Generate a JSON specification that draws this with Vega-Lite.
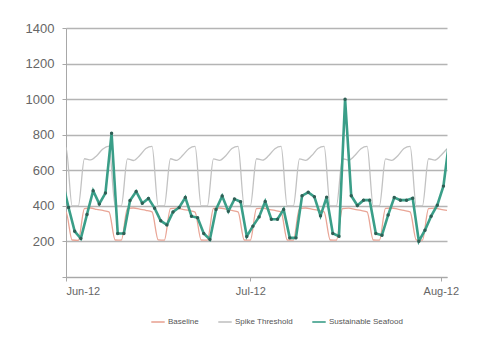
{
  "$schema": "https://vega.github.io/schema/vega-lite/v6.json",
  "autosize": {"type": "none"},
  "padding": {"left": 66, "top": 28, "right": 33, "bottom": 83},
  "width": 381,
  "height": 249,
  "background": "white",
  "config": {
    "view": {"stroke": null},
    "font": "Liberation Sans",
    "axisY": {
      "title": null,
      "format": "d",
      "labelOverlap": false,
      "labelBound": false,
      "grid": true,
      "gridColor": "#b4b4b4",
      "gridWidth": 1.3,
      "domainColor": "#a8a8a8",
      "tickColor": "#a8a8a8",
      "tickSize": 4,
      "labelFontSize": 13,
      "labelColor": "#666666",
      "labelPadding": 8
    }
  },
  "datasets": {
    "ref": [
      {"date": "2012-05-31T00:00:00", "baseline": 372, "threshold": 720},
      {"date": "2012-06-01T00:00:00", "baseline": 365, "threshold": 728},
      {"date": "2012-06-02T00:00:00", "baseline": 208, "threshold": 400},
      {"date": "2012-06-03T00:00:00", "baseline": 206, "threshold": 400},
      {"date": "2012-06-04T00:00:00", "baseline": 385, "threshold": 665},
      {"date": "2012-06-05T00:00:00", "baseline": 388, "threshold": 658},
      {"date": "2012-06-06T00:00:00", "baseline": 380, "threshold": 682},
      {"date": "2012-06-07T00:00:00", "baseline": 374, "threshold": 720},
      {"date": "2012-06-08T00:00:00", "baseline": 366, "threshold": 736},
      {"date": "2012-06-09T00:00:00", "baseline": 208, "threshold": 400},
      {"date": "2012-06-10T00:00:00", "baseline": 207, "threshold": 400},
      {"date": "2012-06-11T00:00:00", "baseline": 386, "threshold": 664},
      {"date": "2012-06-12T00:00:00", "baseline": 388, "threshold": 655},
      {"date": "2012-06-13T00:00:00", "baseline": 381, "threshold": 683},
      {"date": "2012-06-14T00:00:00", "baseline": 375, "threshold": 722},
      {"date": "2012-06-15T00:00:00", "baseline": 366, "threshold": 735},
      {"date": "2012-06-16T00:00:00", "baseline": 209, "threshold": 400},
      {"date": "2012-06-17T00:00:00", "baseline": 207, "threshold": 400},
      {"date": "2012-06-18T00:00:00", "baseline": 385, "threshold": 665},
      {"date": "2012-06-19T00:00:00", "baseline": 387, "threshold": 656},
      {"date": "2012-06-20T00:00:00", "baseline": 380, "threshold": 684},
      {"date": "2012-06-21T00:00:00", "baseline": 374, "threshold": 721},
      {"date": "2012-06-22T00:00:00", "baseline": 365, "threshold": 734},
      {"date": "2012-06-23T00:00:00", "baseline": 208, "threshold": 400},
      {"date": "2012-06-24T00:00:00", "baseline": 207, "threshold": 400},
      {"date": "2012-06-25T00:00:00", "baseline": 386, "threshold": 664},
      {"date": "2012-06-26T00:00:00", "baseline": 388, "threshold": 656},
      {"date": "2012-06-27T00:00:00", "baseline": 381, "threshold": 682},
      {"date": "2012-06-28T00:00:00", "baseline": 374, "threshold": 722},
      {"date": "2012-06-29T00:00:00", "baseline": 366, "threshold": 735},
      {"date": "2012-06-30T00:00:00", "baseline": 208, "threshold": 400},
      {"date": "2012-07-01T00:00:00", "baseline": 207, "threshold": 400},
      {"date": "2012-07-02T00:00:00", "baseline": 385, "threshold": 665},
      {"date": "2012-07-03T00:00:00", "baseline": 387, "threshold": 657},
      {"date": "2012-07-04T00:00:00", "baseline": 380, "threshold": 683},
      {"date": "2012-07-05T00:00:00", "baseline": 374, "threshold": 721},
      {"date": "2012-07-06T00:00:00", "baseline": 366, "threshold": 734},
      {"date": "2012-07-07T00:00:00", "baseline": 208, "threshold": 400},
      {"date": "2012-07-08T00:00:00", "baseline": 207, "threshold": 400},
      {"date": "2012-07-09T00:00:00", "baseline": 386, "threshold": 664},
      {"date": "2012-07-10T00:00:00", "baseline": 388, "threshold": 656},
      {"date": "2012-07-11T00:00:00", "baseline": 381, "threshold": 683},
      {"date": "2012-07-12T00:00:00", "baseline": 375, "threshold": 722},
      {"date": "2012-07-13T00:00:00", "baseline": 366, "threshold": 735},
      {"date": "2012-07-14T00:00:00", "baseline": 208, "threshold": 400},
      {"date": "2012-07-15T00:00:00", "baseline": 207, "threshold": 400},
      {"date": "2012-07-16T00:00:00", "baseline": 385, "threshold": 665},
      {"date": "2012-07-17T00:00:00", "baseline": 387, "threshold": 657},
      {"date": "2012-07-18T00:00:00", "baseline": 380, "threshold": 683},
      {"date": "2012-07-19T00:00:00", "baseline": 374, "threshold": 721},
      {"date": "2012-07-20T00:00:00", "baseline": 366, "threshold": 734},
      {"date": "2012-07-21T00:00:00", "baseline": 208, "threshold": 400},
      {"date": "2012-07-22T00:00:00", "baseline": 207, "threshold": 400},
      {"date": "2012-07-23T00:00:00", "baseline": 386, "threshold": 664},
      {"date": "2012-07-24T00:00:00", "baseline": 388, "threshold": 656},
      {"date": "2012-07-25T00:00:00", "baseline": 381, "threshold": 682},
      {"date": "2012-07-26T00:00:00", "baseline": 374, "threshold": 722},
      {"date": "2012-07-27T00:00:00", "baseline": 366, "threshold": 735},
      {"date": "2012-07-28T00:00:00", "baseline": 208, "threshold": 400},
      {"date": "2012-07-29T00:00:00", "baseline": 207, "threshold": 400},
      {"date": "2012-07-30T00:00:00", "baseline": 385, "threshold": 665},
      {"date": "2012-07-31T00:00:00", "baseline": 387, "threshold": 657},
      {"date": "2012-08-01T00:00:00", "baseline": 380, "threshold": 683},
      {"date": "2012-08-02T00:00:00", "baseline": 374, "threshold": 721}
    ],
    "seafood": [
      {"date": "2012-05-31T10:00:00", "value": 540},
      {"date": "2012-06-01T10:00:00", "value": 391},
      {"date": "2012-06-02T10:00:00", "value": 257},
      {"date": "2012-06-03T10:00:00", "value": 216},
      {"date": "2012-06-04T10:00:00", "value": 352},
      {"date": "2012-06-05T10:00:00", "value": 485},
      {"date": "2012-06-06T10:00:00", "value": 411},
      {"date": "2012-06-07T10:00:00", "value": 472},
      {"date": "2012-06-08T10:00:00", "value": 808},
      {"date": "2012-06-09T10:00:00", "value": 245},
      {"date": "2012-06-10T10:00:00", "value": 245},
      {"date": "2012-06-11T10:00:00", "value": 430},
      {"date": "2012-06-12T10:00:00", "value": 481},
      {"date": "2012-06-13T10:00:00", "value": 415},
      {"date": "2012-06-14T10:00:00", "value": 442},
      {"date": "2012-06-15T10:00:00", "value": 387},
      {"date": "2012-06-16T10:00:00", "value": 316},
      {"date": "2012-06-17T10:00:00", "value": 293},
      {"date": "2012-06-18T10:00:00", "value": 366},
      {"date": "2012-06-19T10:00:00", "value": 391},
      {"date": "2012-06-20T10:00:00", "value": 447},
      {"date": "2012-06-21T10:00:00", "value": 342},
      {"date": "2012-06-22T10:00:00", "value": 333},
      {"date": "2012-06-23T10:00:00", "value": 245},
      {"date": "2012-06-24T10:00:00", "value": 211},
      {"date": "2012-06-25T10:00:00", "value": 380},
      {"date": "2012-06-26T10:00:00", "value": 455},
      {"date": "2012-06-27T10:00:00", "value": 369},
      {"date": "2012-06-28T10:00:00", "value": 438},
      {"date": "2012-06-29T10:00:00", "value": 423},
      {"date": "2012-06-30T10:00:00", "value": 228},
      {"date": "2012-07-01T10:00:00", "value": 286},
      {"date": "2012-07-02T10:00:00", "value": 338},
      {"date": "2012-07-03T10:00:00", "value": 425},
      {"date": "2012-07-04T10:00:00", "value": 325},
      {"date": "2012-07-05T10:00:00", "value": 325},
      {"date": "2012-07-06T10:00:00", "value": 380},
      {"date": "2012-07-07T10:00:00", "value": 220},
      {"date": "2012-07-08T10:00:00", "value": 220},
      {"date": "2012-07-09T10:00:00", "value": 457},
      {"date": "2012-07-10T10:00:00", "value": 476},
      {"date": "2012-07-11T10:00:00", "value": 451},
      {"date": "2012-07-12T10:00:00", "value": 344},
      {"date": "2012-07-13T10:00:00", "value": 449},
      {"date": "2012-07-14T10:00:00", "value": 245},
      {"date": "2012-07-15T10:00:00", "value": 229},
      {"date": "2012-07-16T10:00:00", "value": 1000},
      {"date": "2012-07-17T10:00:00", "value": 457},
      {"date": "2012-07-18T10:00:00", "value": 402},
      {"date": "2012-07-19T10:00:00", "value": 432},
      {"date": "2012-07-20T10:00:00", "value": 432},
      {"date": "2012-07-21T10:00:00", "value": 245},
      {"date": "2012-07-22T10:00:00", "value": 235},
      {"date": "2012-07-23T10:00:00", "value": 348},
      {"date": "2012-07-24T10:00:00", "value": 447},
      {"date": "2012-07-25T10:00:00", "value": 432},
      {"date": "2012-07-26T10:00:00", "value": 432},
      {"date": "2012-07-27T10:00:00", "value": 443},
      {"date": "2012-07-28T10:00:00", "value": 201},
      {"date": "2012-07-29T10:00:00", "value": 263},
      {"date": "2012-07-30T10:00:00", "value": 342},
      {"date": "2012-07-31T10:00:00", "value": 404},
      {"date": "2012-08-01T10:00:00", "value": 511},
      {"date": "2012-08-02T10:00:00", "value": 780}
    ]
  },
  "encoding": {
    "x": {
      "field": "date",
      "type": "temporal",
      "scale": {"domain": [{"year": 2012, "month": 6, "date": 1}, {"year": 2012, "month": 8, "date": 2}]},
      "axis": {
        "title": null,
        "values": [{"year": 2012, "month": 6, "date": 1}, {"year": 2012, "month": 7, "date": 1}, {"year": 2012, "month": 8, "date": 1}],
        "format": "%b-%y",
        "grid": false,
        "domainColor": "#a8a8a8",
        "tickColor": "#a8a8a8",
        "tickSize": 4,
        "labelFontSize": 11,
        "labelColor": "#666666",
        "labelPadding": 4,
        "labelDx": 2,
        "labelOverlap": false
      }
    }
  },
  "layer": [
    {
      "data": {"name": "ref"},
      "mark": {"type": "line", "interpolate": "monotone", "strokeWidth": 1.3, "clip": true},
      "encoding": {
        "y": {
          "field": "threshold",
          "type": "quantitative",
          "scale": {"domain": [0, 1400]},
          "axis": {
            "values": [0, 200, 400, 600, 800, 1000, 1200, 1400],
            "labelExpr": "datum.value == 0 ? '' : datum.label"
          }
        },
        "color": {
          "datum": "Spike Threshold",
          "scale": {
            "domain": ["Baseline", "Spike Threshold", "Sustainable Seafood"],
            "range": ["#e9a596", "#c2c2c2", "#3a9e88"]
          },
          "legend": {
            "title": null,
            "orient": "none",
            "legendX": 84,
            "legendY": 286,
            "direction": "horizontal",
            "symbolType": "stroke",
            "symbolStrokeWidth": 1.6,
            "symbolSize": 180,
            "labelFontSize": 8,
            "labelColor": "#555555",
            "labelOffset": 2,
            "columnPadding": 16
          }
        }
      }
    },
    {
      "data": {"name": "ref"},
      "mark": {"type": "line", "interpolate": "monotone", "strokeWidth": 1.3, "clip": true},
      "encoding": {
        "y": {
          "field": "baseline",
          "type": "quantitative",
          "axis": {
            "values": [0, 200, 400, 600, 800, 1000, 1200, 1400],
            "labelExpr": "datum.value == 0 ? '' : datum.label"
          }
        },
        "color": {"datum": "Baseline"}
      }
    },
    {
      "data": {"name": "seafood"},
      "mark": {"type": "line", "strokeWidth": 2.6, "clip": true},
      "encoding": {
        "y": {
          "field": "value",
          "type": "quantitative",
          "axis": {
            "values": [0, 200, 400, 600, 800, 1000, 1200, 1400],
            "labelExpr": "datum.value == 0 ? '' : datum.label"
          }
        },
        "color": {"datum": "Sustainable Seafood"}
      }
    },
    {
      "data": {"name": "seafood"},
      "mark": {"type": "point", "filled": true, "size": 12, "color": "#2f5f55", "opacity": 1, "clip": true},
      "encoding": {
        "y": {
          "field": "value",
          "type": "quantitative",
          "axis": {
            "values": [0, 200, 400, 600, 800, 1000, 1200, 1400],
            "labelExpr": "datum.value == 0 ? '' : datum.label"
          }
        }
      }
    }
  ]
}
